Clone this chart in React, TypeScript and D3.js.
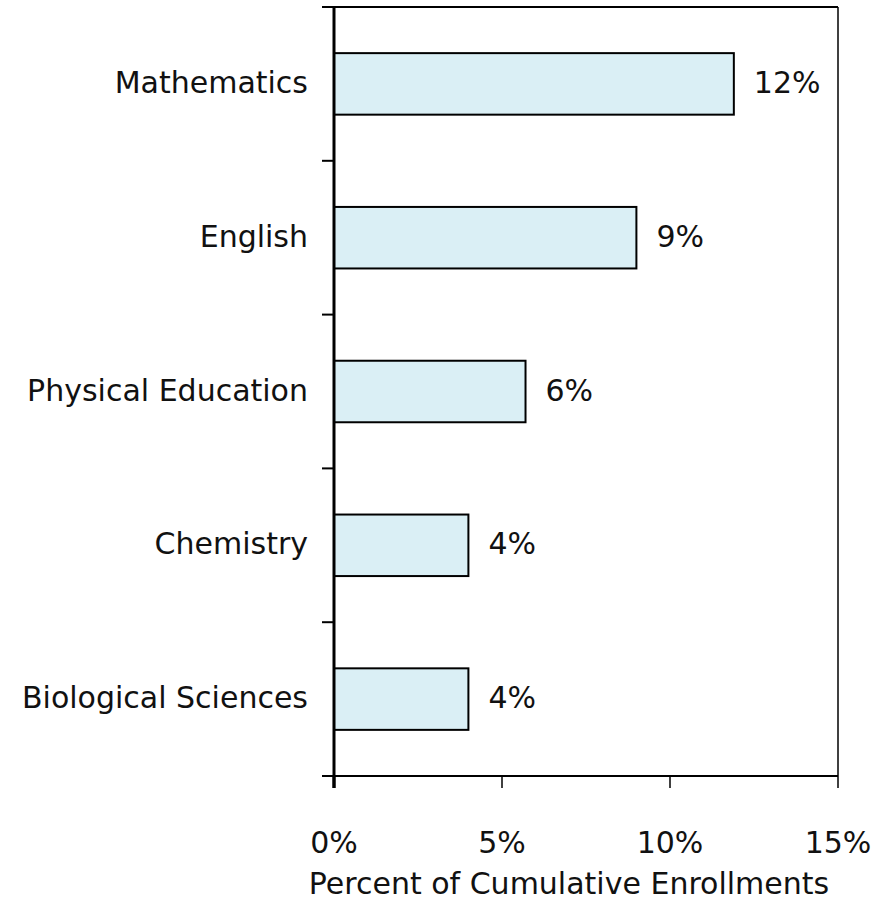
import React from "react";
import * as d3 from "d3";

const categories = ["Mathematics", "English", "Physical Education", "Chemistry", "Biological Sciences"];
const values = [0.119, 0.09, 0.057, 0.04, 0.04];
const valueLabels = ["12%", "9%", "6%", "4%", "4%"];
const xTicks = [0, 0.05, 0.1, 0.15];
const xTickLabels = ["0%", "5%", "10%", "15%"];
const axisTitle = "Percent of Cumulative Enrollments";

const W = 889;
const H = 902;
const FONT = "DejaVu Sans, sans-serif";
const FS = 30;

export default function App() {
  const left = 334, right = 838, top = 7, bottom = 776;
  const x = d3.scaleLinear().domain([0, 0.15]).range([left, right]);
  const y = d3.scaleBand<string>().domain(categories).range([top, bottom]).paddingInner(0.6).paddingOuter(0.3);
  const step = y.step();
  const boundaries = d3.range(categories.length + 1).map((i) => top + i * step);

  return (
    <svg width={W} height={H} style={{ position: "absolute", left: 0, top: 0, background: "#fff" }} fontFamily={FONT}>
      {/* plot border top & right */}
      <line x1={left} x2={right} y1={top} y2={top} stroke="#000" strokeWidth={2} />
      <line x1={right} x2={right} y1={top} y2={bottom} stroke="#000" strokeWidth={1.5} />
      {/* bars */}
      {categories.map((c, i) => (
        <rect key={c} x={x(0)} y={y(c)!} width={x(values[i]) - x(0)} height={y.bandwidth()} fill="#DAEFF5" stroke="#000" strokeWidth={2} />
      ))}
      {/* y ticks */}
      {boundaries.map((b, i) => (
        <line key={i} x1={left - 12} x2={left} y1={b} y2={b} stroke="#000" strokeWidth={2} />
      ))}
      {/* x axis */}
      <line x1={left} x2={right} y1={bottom} y2={bottom} stroke="#000" strokeWidth={2} />
      {xTicks.map((t, i) => (
        <line key={i} x1={x(t)} x2={x(t)} y1={bottom} y2={bottom + 12} stroke="#000" strokeWidth={i === 0 ? 3 : 1.5} />
      ))}
      {/* y axis */}
      <line x1={left} x2={left} y1={top} y2={bottom + 12} stroke="#000" strokeWidth={3} />
      {/* category labels */}
      {categories.map((c) => (
        <text key={c} x={308} y={y(c)! + y.bandwidth() / 2 + 9} textAnchor="end" fontSize={FS} fill="#111">{c}</text>
      ))}
      {/* value labels */}
      {categories.map((c, i) => (
        <text key={c} x={x(values[i]) + 20} y={y(c)! + y.bandwidth() / 2 + 9} textAnchor="start" fontSize={FS} fill="#111">{valueLabels[i]}</text>
      ))}
      {/* x tick labels */}
      {xTicks.map((t, i) => (
        <text key={i} x={x(t)} y={853} textAnchor="middle" fontSize={FS} fill="#111">{xTickLabels[i]}</text>
      ))}
      <text x={569} y={894} textAnchor="middle" fontSize={FS} fill="#111">{axisTitle}</text>
    </svg>
  );
}
